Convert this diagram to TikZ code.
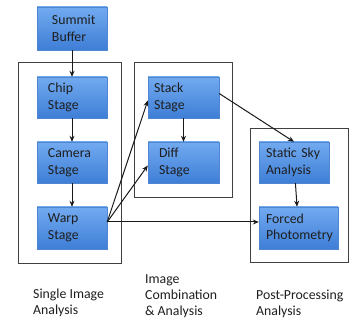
\documentclass[tikz,border=0pt]{standalone}
\usepackage{fontspec}
\setmainfont{Carlito}
\usepackage{tikz}
\usetikzlibrary{positioning,calc,arrows.meta,shadows}

\definecolor{boxtop}{HTML}{72AAF0}
\definecolor{boxbot}{HTML}{3E7ED6}
\definecolor{boxline}{HTML}{4F86CF}
\definecolor{txt}{HTML}{1E1E1E}

\tikzset{
  stagebox/.style={rectangle, draw=boxline, top color=boxtop, bottom color=boxbot,
    drop shadow={shadow xshift=1pt, shadow yshift=-1.5pt, fill=black!25},
    minimum width=70pt, minimum height=41pt, inner sep=0pt,
    text width=#1, align=left, text=txt,
    font=\fontsize{13.8}{16.5}\selectfont},
  stagebox/.default=48pt,
  frame/.style={draw=black!75, line width=0.8pt},
  flow/.style={-{Stealth[length=6pt,width=5pt]}, line width=1pt, black!90},
  caption/.style={anchor=west, align=left, inner sep=0pt, text=txt,
    font=\fontsize{13.8}{16}\selectfont}
}

\begin{document}
\begin{tikzpicture}[x=1pt,y=-1pt]
        \useasboundingbox (0,0) rectangle (354,320);
        % Frames
        \draw[frame] (18,62) rectangle (121,263);
        \draw[frame] (134,62) rectangle (232,197);
        \draw[frame] (250,128) rectangle (348,262);
        % Stages
        \node[stagebox=40pt, minimum height=43pt] (summit) at (72,28.5) {Summit\\Buffer};
        \node[stagebox] (chip) at (72,97.5) {Chip\\Stage};
        \node[stagebox] (camera) at (72,162.5) {Camera\\Stage};
        \node[stagebox, minimum height=42pt] (warp) at (72,228) {Warp\\Stage};
        \node[stagebox=59pt, minimum width=71pt] (stack) at (183.5,97.5) {Stack\\Stage};
        \node[stagebox=49pt, minimum width=71pt] (diff) at (183.5,162.5) {Diff\\Stage};
        \node[stagebox=56pt] (static) at (294,162.5) {Static Sky\\Analysis};
        \node[stagebox=65pt, minimum width=79pt, minimum height=42pt] (forced) at (298.5,228) {Forced\\Photometry};
        % Connectors
        \coordinate (warpout) at ($(warp.east)+(0,-6)$);
        \coordinate (stackout) at ($(stack.east)+(0,-4)$);
        \draw[flow] (summit) -- (chip);
        \draw[flow] (chip) -- (camera);
        \draw[flow] (camera) -- (warp);
        \draw[flow] (stack) -- (diff);
        \draw[flow] (static) -- (forced);
        \draw[flow] (warpout) -- ($(stack.west)+(0,3)$);
        \draw[flow] (warpout) -- ($(diff.west)+(0,3)$);
        \draw[flow] (warpout) -- (warpout -| forced.west);
        \draw[flow] (stackout) -- (static.north);
        % Captions
        \node[caption] (single) at (33,303) {Single Image\\Analysis};
        \node[caption] (combo) at (145,296) {Image\\Combination\\\& Analysis};
        \node[caption] (post) at (256,303.5) {Post-Processing\\Analysis};
\end{tikzpicture}
\end{document}
